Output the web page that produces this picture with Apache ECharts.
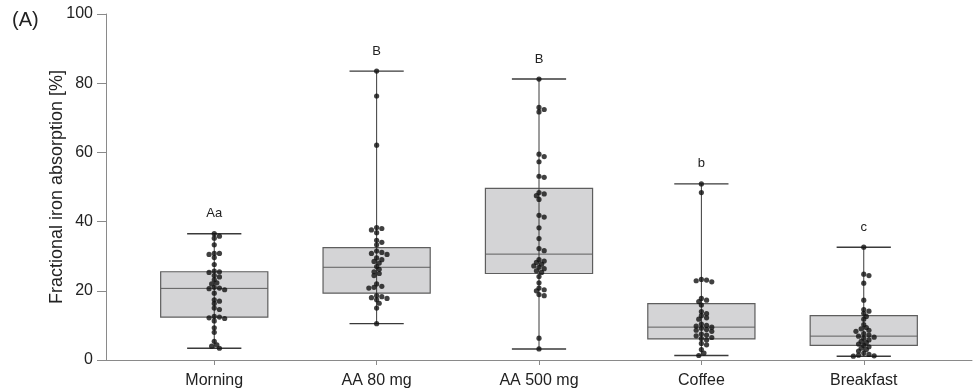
<!DOCTYPE html>
<html>
<head>
<meta charset="utf-8">
<script src="https://cdn.jsdelivr.net/npm/echarts@6/dist/echarts.min.js"></script>
<style>
html,body{margin:0;padding:0;background:#fff;}
#chart{width:978px;height:392px;}
</style>
</head>
<body>
<div id="chart"></div>
<script>
const categories = ['Morning', 'AA 80 mg', 'AA 500 mg', 'Coffee', 'Breakfast'];
const letters = ['Aa', 'B', 'B', 'b', 'c'];
const boxMin = [3.4, 10.5, 3.2, 1.3, 1.1];
const boxQ1 = [12.4, 19.3, 25.0, 6.1, 4.2];
const boxMedian = [20.7, 26.8, 30.6, 9.5, 6.9];
const boxQ3 = [25.5, 32.5, 49.6, 16.3, 12.8];
const boxMax = [36.5, 83.5, 81.2, 50.9, 32.6];

const pointsMorning = [36.5, 35.8, 35.2, 33.3, 30.8, 30.8, 30.5, 29.6, 27.6, 25.7, 25.5, 25.3, 24.4, 24.0, 23.2, 22.3, 22.0, 21.0, 20.8, 20.6, 20.3, 19.3, 17.4, 17.0, 16.3, 15.0, 14.6, 12.6, 12.4, 12.2, 12.0, 11.3, 9.3, 8.0, 5.4, 4.4, 4.0, 3.4];
const pointsAA80 = [83.5, 76.3, 62.1, 38.3, 38.0, 37.6, 36.8, 34.6, 34.0, 33.3, 31.5, 31.1, 30.8, 30.5, 29.5, 29.0, 28.5, 28.0, 27.0, 26.2, 25.5, 25.0, 24.4, 22.0, 21.3, 21.0, 20.8, 18.6, 18.3, 18.0, 17.8, 17.4, 16.4, 15.0, 10.5];
const pointsAA500 = [81.2, 73.0, 72.4, 71.7, 59.5, 58.8, 57.3, 53.1, 52.8, 48.4, 48.0, 47.5, 46.4, 41.8, 41.3, 38.2, 35.1, 32.2, 31.6, 29.0, 28.6, 28.2, 27.7, 27.2, 26.8, 26.4, 25.8, 25.3, 24.1, 22.3, 20.8, 20.3, 20.0, 18.9, 18.6, 6.3, 3.2];
const pointsCoffee = [50.9, 48.4, 23.3, 23.1, 22.9, 22.6, 17.8, 17.3, 16.9, 15.9, 14.0, 13.4, 12.8, 12.2, 11.8, 10.4, 10.0, 9.8, 9.5, 9.2, 8.8, 8.6, 8.3, 7.5, 7.2, 7.0, 6.5, 6.2, 5.8, 4.8, 4.4, 3.0, 2.0, 1.3];
const pointsBreakfast = [32.6, 24.8, 24.4, 22.2, 17.3, 14.6, 14.1, 13.5, 12.6, 11.8, 10.2, 9.4, 9.0, 8.6, 8.3, 7.6, 7.2, 6.9, 6.6, 6.3, 5.8, 5.4, 5.0, 4.6, 4.2, 3.8, 3.4, 3.0, 2.6, 2.0, 1.6, 1.4, 1.2, 1.1];
const groups = [pointsMorning, pointsAA80, pointsAA500, pointsCoffee, pointsBreakfast];

const yTitle = 'Fractional iron absorption [%]';
const panelLabel = '(A)';
const yTicksInterval = 20;
const xMin = -2 / 3, xMax = 14 / 3;
const gridLeft = 106, gridRight = 6, gridTop = 14, gridBottom = 32;
const W = 978, H = 392;
const pxPerX = (W - gridLeft - gridRight) / (xMax - xMin);
const pxPerY = (H - gridTop - gridBottom) / 100;

// deterministic beeswarm layout (offsets computed from values)
const dotD = 3.6, step = 2.6;
function swarm(vals, idx) {
  const placed = [];
  const out = [];
  const sorted = vals.slice().sort((a, b) => b - a);
  sorted.forEach(v => {
    const py = v * pxPerY;
    let off = 0;
    for (let n = 0; n < 40; n++) {
      const cand = n === 0 ? 0 : (n % 2 === 1 ? 1 : -1) * Math.ceil(n / 2) * step;
      const ok = placed.every(p => Math.hypot(p[0] - cand, p[1] - py) >= dotD);
      if (ok) { off = cand; break; }
    }
    placed.push([off, py]);
    out.push([idx + off / pxPerX, v]);
  });
  return out;
}
const scatterData = [];
groups.forEach((g, i) => swarm(g, i).forEach(p => scatterData.push(p)));

const boxData = categories.map((c, i) => [i, boxMin[i], boxQ1[i], boxMedian[i], boxQ3[i], boxMax[i]]);

const font = 'Liberation Sans, Arial, sans-serif';
const chart = echarts.init(document.getElementById('chart'), null, { renderer: 'canvas' });
chart.setOption({
  animation: false,
  backgroundColor: '#fff',
  grid: { left: gridLeft, right: gridRight, top: gridTop, bottom: gridBottom },
  graphic: [{
    type: 'text', left: 12, top: 10,
    style: { text: panelLabel, font: '20px ' + font, fill: '#222' }
  }, {
    type: 'text', x: 57, y: (gridTop + H - gridBottom) / 2, rotation: Math.PI / 2,
    style: { text: yTitle, font: '18px ' + font, fill: '#222', align: 'center', verticalAlign: 'middle' }
  }],
  xAxis: {
    type: 'value', min: xMin, max: xMax,
    splitLine: { show: false },
    axisLine: { show: true, onZero: false, lineStyle: { color: '#8a8a8a', width: 1 } },
    axisTick: { show: true, length: 5, customValues: [0, 1, 2, 3, 4], lineStyle: { color: '#8a8a8a' } },
    axisLabel: {
      customValues: [0, 1, 2, 3, 4], margin: 13,
      formatter: v => categories[Math.round(v)] || '',
      color: '#222', fontSize: 16, fontFamily: font
    }
  },
  yAxis: {
    type: 'value', min: 0, max: 100, interval: yTicksInterval,
    splitLine: { show: false },
    axisLine: { show: true, onZero: false, lineStyle: { color: '#8a8a8a', width: 1 } },
    axisTick: { show: true, length: 9, lineStyle: { color: '#8a8a8a' } },
    axisLabel: { color: '#222', fontSize: 16, fontFamily: font, margin: 13 }
  },
  series: [{
    type: 'custom',
    data: boxData,
    z: 2,
    renderItem: function (params, api) {
      const x = api.value(0);
      const pMin = api.coord([x, api.value(1)]);
      const pQ1 = api.coord([x, api.value(2)]);
      const pMed = api.coord([x, api.value(3)]);
      const pQ3 = api.coord([x, api.value(4)]);
      const pMax = api.coord([x, api.value(5)]);
      const unit = api.size([1, 0])[0];
      const hw = unit * 0.33, cw = unit * 0.167;
      const cx = pMed[0];
      const lineStyle = { stroke: '#3a3a3a', lineWidth: 1 };
      return {
        type: 'group',
        children: [
          { type: 'line', shape: { x1: cx, y1: pMax[1], x2: cx, y2: pQ3[1] }, style: lineStyle },
          { type: 'line', shape: { x1: cx, y1: pQ1[1], x2: cx, y2: pMin[1] }, style: lineStyle },
          { type: 'line', shape: { x1: cx - cw, y1: pMax[1], x2: cx + cw, y2: pMax[1] }, style: { stroke: '#3a3a3a', lineWidth: 1.4 } },
          { type: 'line', shape: { x1: cx - cw, y1: pMin[1], x2: cx + cw, y2: pMin[1] }, style: { stroke: '#3a3a3a', lineWidth: 1.4 } },
          { type: 'rect', shape: { x: cx - hw, y: pQ3[1], width: hw * 2, height: pQ1[1] - pQ3[1] },
            style: { fill: '#d4d4d6', stroke: '#5e5e5e', lineWidth: 1.2 } },
          { type: 'line', shape: { x1: cx - hw, y1: pMed[1], x2: cx + hw, y2: pMed[1] }, style: { stroke: '#5e5e5e', lineWidth: 1 } },
          { type: 'line', shape: { x1: cx, y1: pQ3[1], x2: cx, y2: pQ1[1] }, style: { stroke: '#3a3a3a', lineWidth: 1 } },
          { type: 'text', x: cx, y: pMax[1] - 20,
            style: { text: letters[params.dataIndex], font: '13px ' + font, fill: '#222', align: 'center', verticalAlign: 'middle' } }
        ]
      };
    }
  }, {
    type: 'scatter',
    data: scatterData,
    z: 5,
    symbol: 'circle',
    symbolSize: 5.2,
    itemStyle: { color: '#111' }
  }]
});
</script>
</body>
</html>
